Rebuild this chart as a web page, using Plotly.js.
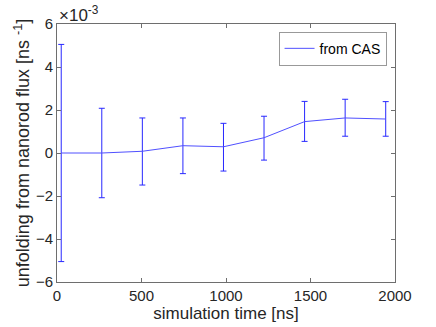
<!DOCTYPE html>
<html>
<head>
<meta charset="utf-8">
<script src="https://cdn.plot.ly/plotly-3.0.1.min.js"></script>
<style>
  html, body { margin: 0; padding: 0; background: #fff; }
  #chart { width: 436px; height: 327px; }
</style>
</head>
<body>
<div id="chart"></div>
<script>
// simulation time [ns]
const simTime = [25, 265, 505, 745, 985, 1225, 1465, 1705, 1945];
// unfolding rate, in units of 1e-3 ns^-1
const unfolding = [0.0, 0.0, 0.08, 0.34, 0.29, 0.71, 1.46, 1.63, 1.58];
const errPlus = [5.05, 2.08, 1.55, 1.29, 1.09, 1.00, 0.94, 0.87, 0.81];
const errMinus = [5.05, 2.08, 1.57, 1.30, 1.13, 1.04, 0.92, 0.85, 0.80];
const yTicks = [-6, -4, -2, 0, 2, 4, 6];
const xTicks = [0, 500, 1000, 1500, 2000];

const blue = 'rgb(80,80,255)';
const axisColor = '#6e6e6e';
const font = { family: 'Liberation Sans, Arial, sans-serif', color: '#262626' };

const trace = {
    type: 'scatter',
    mode: 'lines',
    x: simTime,
    y: unfolding,
    name: 'from CAS',
    line: { color: blue, width: 1 },
    error_y: {
        type: 'data',
        symmetric: false,
        array: errPlus,
        arrayminus: errMinus,
        color: 'rgb(40,40,255)',
        thickness: 1,
        width: 3
    }
};

const layout = {
    width: 436,
    height: 327,
    margin: { l: 57, r: 41, t: 24, b: 45 },
    paper_bgcolor: '#fff',
    plot_bgcolor: '#fff',
    font: font,
    showlegend: true,
    legend: {
        x: 0.975, y: 0.97, xanchor: 'right', yanchor: 'top',
        bordercolor: '#999', borderwidth: 1,
        bgcolor: '#fff',
        font: { size: 14, family: font.family, color: '#000' },
        itemwidth: 30,
        tracegroupgap: 0
    },
    xaxis: {
        range: [0, 2000],
        tickvals: xTicks,
        ticks: 'inside', ticklen: 4, tickcolor: axisColor,
        showline: true, linecolor: axisColor, linewidth: 1, mirror: 'ticks',
        showgrid: false, zeroline: false,
        tickfont: { size: 15 },
        automargin: false,
        title: { text: 'simulation time [ns]', font: { size: 17 }, standoff: 2 }
    },
    yaxis: {
        range: [-6, 6],
        tickvals: yTicks,
        ticks: 'inside', ticklen: 4, tickcolor: axisColor,
        showline: true, linecolor: axisColor, linewidth: 1, mirror: 'ticks',
        showgrid: false, zeroline: false,
        tickfont: { size: 15 },
        automargin: false,
        title: { text: 'unfolding from nanorod flux [ns <sup>-1</sup>]', font: { size: 18 }, standoff: 1 }
    },
    annotations: [{
        text: '×10<sup>-3</sup>',
        xref: 'paper', yref: 'paper',
        x: 0, y: 1, xanchor: 'left', yanchor: 'bottom',
        showarrow: false,
        font: { size: 17, color: '#262626' },
        yshift: -3
    }]
};

Plotly.newPlot('chart', [trace], layout, { displayModeBar: false, staticPlot: true });
</script>
</body>
</html>
